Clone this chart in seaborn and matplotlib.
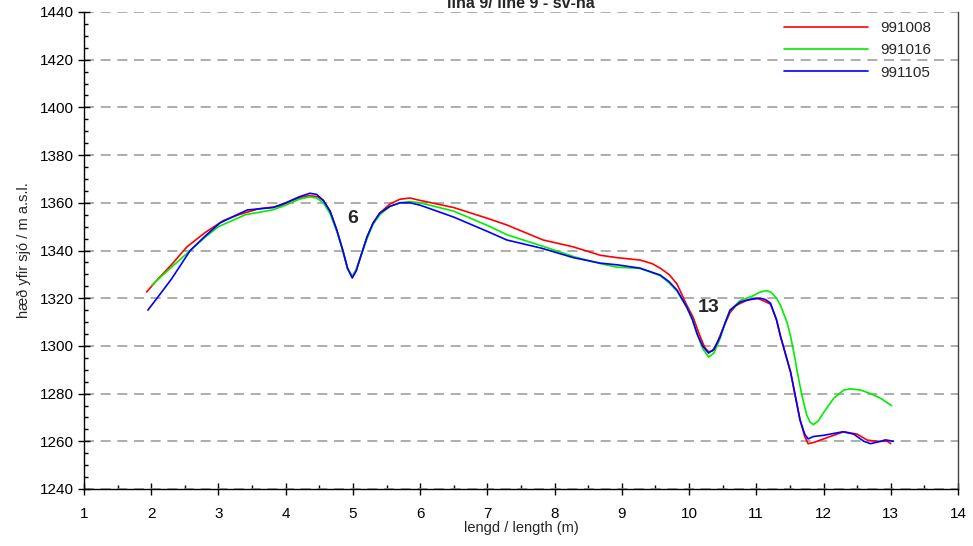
import numpy as np
import pandas as pd
import seaborn as sns
import matplotlib.pyplot as plt
from matplotlib.ticker import MultipleLocator

###### Gögn lesin af myndinni ######

x_991008 = [1.93, 2.1, 2.3, 2.53, 2.8, 3.07, 3.3, 3.6, 3.9, 4.1, 4.25, 4.36, 4.48, 4.56, 4.66,
            4.76, 4.85, 4.92, 4.99, 5.05, 5.11, 5.21, 5.3, 5.4, 5.55, 5.7, 5.85, 6.0, 6.5, 7.0,
            7.29, 7.83, 8.28, 8.68, 8.93, 9.27, 9.45, 9.57, 9.7, 9.82, 9.95, 10.06, 10.15, 10.23,
            10.29, 10.35, 10.42, 10.5, 10.61, 10.7, 10.85, 11.01, 11.1, 11.21, 11.3, 11.36, 11.45,
            11.51, 11.58, 11.65, 11.72, 11.77, 11.85, 12.0, 12.15, 12.3, 12.5, 12.65, 12.8, 12.95,
            13.0]
y_991008 = [1322.6, 1328, 1334, 1341.5, 1347.5, 1352.5, 1355, 1357.5, 1358.5, 1361, 1362.5, 1363,
            1362.5, 1361, 1356.5, 1348.6, 1340, 1332.5, 1329, 1332, 1337, 1345.7, 1351.5, 1355.7,
            1359.5, 1361.5, 1362, 1361, 1358, 1353.5, 1350.7, 1344.4, 1341.5, 1338, 1337, 1336,
            1334.5, 1332.6, 1330, 1326, 1318, 1312, 1305, 1299.5, 1297.5, 1298, 1301.5, 1307, 1314,
            1317, 1319, 1320, 1319, 1317.5, 1311, 1304, 1295, 1289, 1279, 1269, 1262, 1259,
            1259.5, 1261, 1262.5, 1264, 1263, 1260.5, 1260, 1260, 1259]

x_991016 = [2.01, 2.3, 2.62, 2.8, 3.0, 3.4, 3.8, 4.0, 4.2, 4.36, 4.46, 4.56, 4.66, 4.76, 4.85,
            4.92, 4.99, 5.05, 5.11, 5.21, 5.3, 5.4, 5.55, 5.7, 5.85, 6.0, 6.5, 7.0, 7.3, 7.8, 8.3,
            8.68, 8.93, 9.27, 9.57, 9.7, 9.82, 9.97, 10.05, 10.12, 10.2, 10.29, 10.37, 10.46,
            10.54, 10.61, 10.76, 10.95, 11.05, 11.15, 11.22, 11.3, 11.36, 11.46, 11.51, 11.56,
            11.61, 11.68, 11.75, 11.8, 11.85, 11.92, 12.0, 12.15, 12.3, 12.4, 12.55, 12.7, 12.85,
            13.01]
y_991016 = [1325.5, 1333, 1341, 1345.5, 1350, 1355, 1357, 1359, 1361.5, 1362.5, 1362, 1360,
            1355.5, 1348, 1340, 1332.5, 1329, 1332, 1337, 1345, 1351, 1355, 1358.5, 1360, 1360.5,
            1360, 1356.5, 1350.5, 1346.5, 1342, 1337.3, 1334.5, 1333, 1332.5, 1329.5, 1326.5,
            1323, 1316, 1311, 1305, 1299, 1295.3, 1297, 1303, 1310, 1315, 1319, 1321, 1322.5,
            1323.2, 1322.5, 1320, 1317, 1309.6, 1304, 1297, 1289, 1279, 1271, 1268, 1267, 1268.5,
            1272, 1278, 1281.5, 1282, 1281.5, 1280, 1278, 1275]

x_991105 = [1.95, 2.1, 2.3, 2.58, 2.8, 3.02, 3.2, 3.43, 3.81, 4.0, 4.2, 4.36, 4.46, 4.56, 4.66,
            4.76, 4.85, 4.92, 4.99, 5.05, 5.11, 5.21, 5.3, 5.4, 5.55, 5.7, 5.85, 6.0, 6.5, 7.0,
            7.29, 7.8, 8.28, 8.68, 8.93, 9.27, 9.57, 9.7, 9.82, 9.97, 10.05, 10.12, 10.2, 10.29,
            10.37, 10.46, 10.54, 10.61, 10.76, 10.9, 11.06, 11.13, 11.21, 11.3, 11.36, 11.45,
            11.51, 11.58, 11.65, 11.72, 11.77, 11.85, 12.0, 12.29, 12.45, 12.6, 12.7, 12.85, 12.92,
            13.04]
y_991105 = [1315, 1320.5, 1328, 1340, 1346, 1351.5, 1354, 1357, 1358, 1360, 1362.5, 1364, 1363.5,
            1361, 1356.5, 1348.6, 1340, 1332.5, 1328.5, 1331.5, 1337, 1345.7, 1351.5, 1355.7,
            1358.5, 1360, 1360, 1359, 1354, 1348, 1344.4, 1341, 1337, 1334.7, 1334, 1332.6,
            1329.7, 1327, 1323.4, 1316, 1311, 1305, 1300, 1297, 1298.5, 1303.7, 1310, 1315,
            1318.4, 1319.5, 1320, 1319.5, 1318, 1311, 1304, 1295, 1289, 1279, 1269, 1263, 1261,
            1262, 1262.5, 1264, 1263, 1260, 1259, 1260, 1260.6, 1260]

series_names = ['991008', '991016', '991105']
series_colors = ['#ff0000', '#00ee00', '#0000ff']

x_ticks = list(range(1, 15))
y_ticks = list(range(1240, 1441, 20))

title_text = 'lína 9/ line 9 - sv-na'
x_label = 'lengd / length (m)'
y_label = 'hæð yfir sjó / m a.s.l.'

###### Mynd ######

sns.set_theme(style='white')
plt.rcParams['font.family'] = ['Liberation Sans', 'DejaVu Sans']

df = pd.concat([
    pd.DataFrame({'x': x_991008, 'y': y_991008, 'run': series_names[0]}),
    pd.DataFrame({'x': x_991016, 'y': y_991016, 'run': series_names[1]}),
    pd.DataFrame({'x': x_991105, 'y': y_991105, 'run': series_names[2]}),
])

fig = plt.figure(figsize=(9.73, 5.46), dpi=100)
ax = fig.add_axes([84/973, 1 - 489/546, (958-84)/973, (489-12)/546])

sns.lineplot(data=df, x='x', y='y', hue='run', palette=series_colors, estimator=None,
             sort=False, linewidth=1.2, ax=ax)

ax.set_xlim(1, 14)
ax.set_ylim(1240, 1440)
ax.set_xticks(x_ticks)
ax.set_yticks(y_ticks)
ax.xaxis.set_minor_locator(MultipleLocator(0.5))
ax.yaxis.set_minor_locator(MultipleLocator(5))
ax.tick_params(axis='both', which='major', direction='inout', length=8, width=1,
               color='black', labelsize=11, labelcolor='black')
ax.tick_params(axis='x', which='major', pad=9)
ax.tick_params(axis='both', which='minor', direction='in', length=3, width=1, color='black')
ax.tick_params(bottom=True, left=True, which='both')

# grille horizontale en pointillés
ax.grid(axis='y', which='major', color='#a0a0a0', linestyle=(0, (6, 4)), linewidth=1.2)
ax.grid(axis='x', visible=False)

for s in ['left', 'bottom']:
    ax.spines[s].set_color('black')
    ax.spines[s].set_linewidth(1)
ax.spines['right'].set_color('#404040')
ax.spines['right'].set_linewidth(1)
ax.spines['top'].set_visible(False)

ax.set_xlabel(x_label, fontsize=10.5, labelpad=0)
ax.set_ylabel(y_label, fontsize=10.5, labelpad=6)

ax.text(4.99, 1353.6, '6', fontsize=14, fontweight='bold', ha='center', va='center')
ax.text(10.29, 1316, '13', fontsize=14, fontweight='bold', ha='center', va='center')

leg = ax.legend(loc='upper right', frameon=False, fontsize=11, handlelength=5.5,
                handletextpad=0.8, labelspacing=0.55, bbox_to_anchor=(0.985, 1.01))
for h in leg.get_lines():
    h.set_linewidth(1.2)

fig.text(521/973, 1 - 8/546, title_text, fontsize=11.5, fontweight='bold',
         ha='center', va='baseline')

plt.savefig('out.png', dpi=100)
